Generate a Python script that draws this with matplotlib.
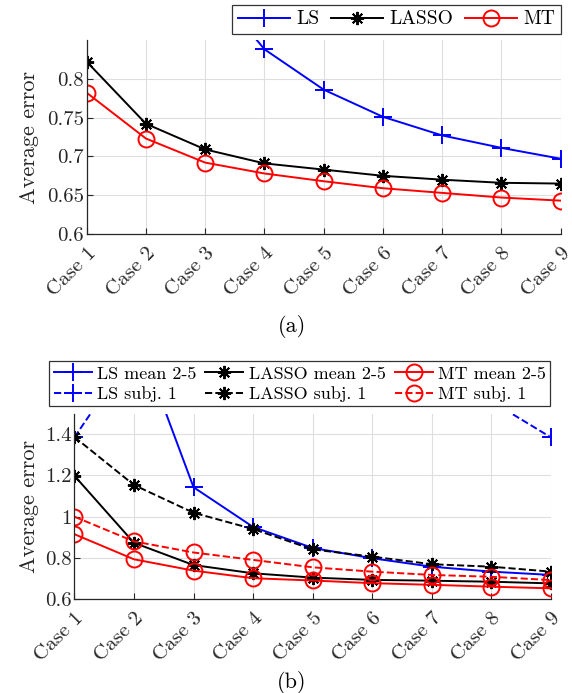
import numpy as np
import matplotlib.pyplot as plt

plt.rcParams['font.family'] = 'serif'
plt.rcParams['font.serif'] = ['cmr10', 'DejaVu Serif']
plt.rcParams['mathtext.fontset'] = 'cm'
plt.rcParams['axes.formatter.use_mathtext'] = True

cases = ["Case 1", "Case 2", "Case 3", "Case 4", "Case 5", "Case 6", "Case 7", "Case 8", "Case 9"]

# (a)
ls_a = [1.40, 1.10, 0.93, 0.838, 0.786, 0.751, 0.727, 0.711, 0.697]
lasso_a = [0.822, 0.742, 0.709, 0.691, 0.683, 0.675, 0.670, 0.666, 0.665]
mt_a = [0.782, 0.723, 0.692, 0.678, 0.668, 0.659, 0.653, 0.647, 0.643]

# (b)
ls_mean = [3.00, 1.92, 1.143, 0.950, 0.848, 0.798, 0.757, 0.733, 0.717]
ls_subj = [1.385, 1.81, 2.60, 3.40, 3.90, 3.20, 2.30, 1.56, 1.385]
lasso_mean = [1.199, 0.873, 0.765, 0.725, 0.704, 0.693, 0.689, 0.684, 0.676]
lasso_subj = [1.387, 1.154, 1.019, 0.940, 0.841, 0.806, 0.769, 0.757, 0.733]
mt_mean = [0.915, 0.793, 0.738, 0.701, 0.690, 0.677, 0.669, 0.660, 0.652]
mt_subj = [1.000, 0.880, 0.826, 0.790, 0.754, 0.733, 0.717, 0.708, 0.692]

star = (8, 2, 0)
lw = 1.4
ms = 9.5
axis_col = (0.15, 0.15, 0.15)

fig = plt.figure(figsize=(5.72, 6.93), dpi=100)
ax1 = fig.add_axes([0.1516, 0.6623, 0.8287, 0.2800])
ax2 = fig.add_axes([0.1300, 0.1356, 0.8333, 0.2674])

x = np.arange(len(cases))


def style(ax, yticks, ylabels, ylim):
    ax.set_xlim(0, len(cases) - 1)
    ax.set_ylim(*ylim)
    ax.set_xticks(x)
    ax.set_xticklabels(cases, rotation=45, ha='right', rotation_mode='anchor', fontsize=15)
    ax.set_yticks(yticks)
    ax.set_yticklabels(ylabels, fontsize=15)
    ax.grid(True, color=(0.87, 0.87, 0.87), linewidth=0.8)
    ax.set_axisbelow(True)
    for s in ['top', 'right']:
        ax.spines[s].set_visible(False)
    for s in ['left', 'bottom']:
        ax.spines[s].set_color(axis_col)
        ax.spines[s].set_linewidth(0.9)
    ax.tick_params(direction='in', length=4, width=0.8, color=axis_col, labelcolor=axis_col)
    ax.tick_params(axis='x', pad=7)
    ax.tick_params(axis='y', pad=2)
    ax.set_ylabel("Average error", fontsize=16, color=axis_col)


ax1.plot(x, ls_a, color='blue', marker='+', ms=ms + 3, mew=1.4, lw=lw, label='LS')
ax1.plot(x, lasso_a, color='black', marker=star, ms=ms, mew=1.4, lw=lw, label='LASSO')
ax1.plot(x, mt_a, color='red', marker='o', ms=ms + 2, mfc='none', mew=1.4, lw=lw, label='MT')
style(ax1, [0.6, 0.65, 0.7, 0.75, 0.8], ["0.6", "0.65", "0.7", "0.75", "0.8"], (0.6, 0.85))
ax1.yaxis.labelpad = 6
leg1 = ax1.legend(loc='lower right', bbox_to_anchor=(1.0, 1.03), ncol=3, fontsize=14,
                  frameon=True, fancybox=False, edgecolor='black', handlelength=2.7,
                  handletextpad=0.3, columnspacing=0.6, borderpad=0.3, borderaxespad=0)
leg1.get_frame().set_linewidth(0.9)

ax2.plot(x, ls_mean, color='blue', marker='+', ms=ms + 3, mew=1.4, lw=lw, label='LS mean 2-5')
ax2.plot(x, ls_subj, color='blue', marker='+', ms=ms + 3, mew=1.4, lw=lw, ls='--', label='LS subj. 1')
ax2.plot(x, lasso_mean, color='black', marker=star, ms=ms, mew=1.4, lw=lw, label='LASSO mean 2-5')
ax2.plot(x, lasso_subj, color='black', marker=star, ms=ms, mew=1.4, lw=lw, ls='--', label='LASSO subj. 1')
ax2.plot(x, mt_mean, color='red', marker='o', ms=ms + 2, mfc='none', mew=1.4, lw=lw, label='MT mean 2-5')
ax2.plot(x, mt_subj, color='red', marker='o', ms=ms + 2, mfc='none', mew=1.4, lw=lw, ls='--', label='MT subj. 1')
style(ax2, [0.6, 0.8, 1.0, 1.2, 1.4], ["0.6", "0.8", "1", "1.2", "1.4"], (0.6, 1.5))
ax2.yaxis.labelpad = 4
leg2 = ax2.legend(loc='lower center', bbox_to_anchor=(0.473, 1.0), ncol=3, fontsize=13,
                  frameon=True, fancybox=False, edgecolor='black', handlelength=2.1,
                  handletextpad=0.3, columnspacing=0.5, borderpad=0.25, labelspacing=0.25,
                  borderaxespad=0.4)
leg2.get_frame().set_linewidth(0.9)

fig.text(0.51, 1 - 326 / 693, "(a)", ha='center', va='center', fontsize=16)
fig.text(0.51, 1 - 682 / 693, "(b)", ha='center', va='center', fontsize=16)

fig.savefig("out.png", dpi=100, facecolor='white')
